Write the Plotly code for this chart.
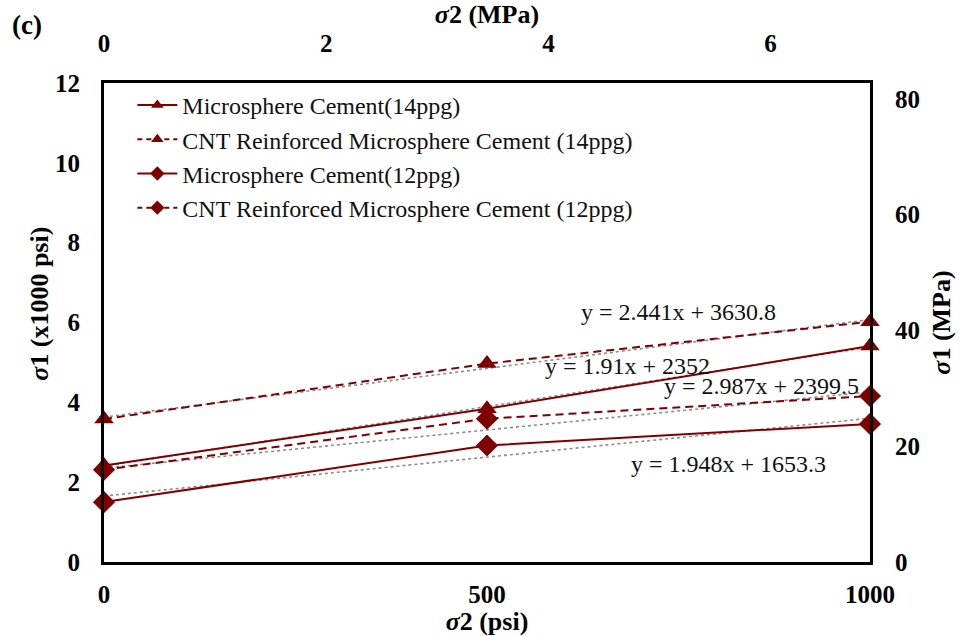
import plotly.graph_objects as go

x_psi = [0, 500, 1000]
micro14 = [2.42, 3.84, 5.41]
cnt14 = [3.58, 4.97, 6.02]
micro12 = [1.50, 2.92, 3.46]
cnt12 = [2.31, 3.59, 4.16]

series_names = [
    "Microsphere Cement(14ppg)",
    "CNT Reinforced Microsphere Cement (14ppg)",
    "Microsphere Cement(12ppg)",
    "CNT Reinforced Microsphere Cement (12ppg)",
]
# trend lines (psi): y = slope*x + intercept
trend_slopes = [2.987, 2.441, 1.948, 1.91]
trend_intercepts = [2399.5, 3630.8, 1653.3, 2352]
trend_labels = ["y = 2.987x + 2399.5", "y = 2.441x + 3630.8", "y = 1.948x + 1653.3", "y = 1.91x + 2352"]
label_pos = [(859, 4.42), (750, 6.26), (815, 2.45), (684, 4.90)]

PSI_TO_MPA = 0.00689476
RED = "#7f0000"
FONT = "Liberation Serif, Times New Roman, serif"

fig = go.Figure()
sym = ["triangle-up", "triangle-up", "diamond", "diamond"]
dashes = ["solid", "8px,5px", "solid", "8px,5px"]
data = [micro14, cnt14, micro12, cnt12]

for s, b in zip(trend_slopes, trend_intercepts):
    xs = [x_psi[0], x_psi[-1]]
    ys = [(s * xv + b) / 1000 for xv in xs]
    fig.add_trace(go.Scatter(x=xs, y=ys, mode="lines", showlegend=False,
                             line=dict(color="#8c8c8c", width=1.6, dash="dot"),
                             hoverinfo="skip"))

for name, ys, sm, d in zip(series_names, data, sym, dashes):
    fig.add_trace(go.Scatter(x=x_psi, y=ys, mode="lines+markers", name=name, cliponaxis=False,
                             showlegend=False, legendgroup=name,
                             line=dict(color=RED, width=2, dash=d),
                             marker=dict(symbol=sm, size=17, color=RED)))

# legend entries (smaller markers, as in the reference legend)
for name, sm, d in zip(series_names, sym, ["solid", "5px,4px", "solid", "5px,4px"]):
    fig.add_trace(go.Scatter(x=[None], y=[None], mode="lines+markers", name=name, legendgroup=name,
                             line=dict(color=RED, width=2, dash=d),
                             marker=dict(symbol=sm, size=11, color=RED)))

fig.add_trace(go.Scatter(x=[0], y=[None], xaxis="x2", yaxis="y2", showlegend=False, hoverinfo="skip"))

for txt, (lx, ly) in zip(trend_labels, label_pos):
    fig.add_annotation(x=lx, y=ly, text=txt, showarrow=False,
                       font=dict(family=FONT, size=24, color="#111"), xanchor="center", yanchor="middle")

fig.add_annotation(x=-0.123, y=1.121, xref="paper", yref="paper", text="<b>(c)</b>", showarrow=False,
                   xanchor="left", yanchor="middle", font=dict(family=FONT, size=27, color="black"))

tickfont = dict(family=FONT, size=25, color="black", weight="bold")
titlefont = dict(family=FONT, size=26, color="black")

fig.add_annotation(x=-0.0836, y=0.539, xref="paper", yref="paper", text="<b><i>σ</i>1 (x1000 psi)</b>",
                   showarrow=False, textangle=-90, xanchor="center", yanchor="middle", font=titlefont)

fig.update_layout(
    width=960, height=636,
    margin=dict(l=104, r=90, t=83, b=74),
    paper_bgcolor="white", plot_bgcolor="white",
    font=dict(family=FONT, color="black"),
    showlegend=True,
    legend=dict(x=0.037, y=1.0, xanchor="left", yanchor="top",
                font=dict(family=FONT, size=24, color="#111"),
                bgcolor="rgba(0,0,0,0)", tracegroupgap=0, itemwidth=40),
    xaxis=dict(range=[0, 1000], tickvals=[0, 500, 1000], showgrid=False, zeroline=False,
               showline=True, linecolor="black", linewidth=3, ticks="", ticklabelstandoff=8,
               tickfont=tickfont, tickformat="d", automargin=False,
               title=dict(text="<b><i>σ</i>2 (psi)</b>", font=titlefont, standoff=0)),
    xaxis2=dict(range=[0, 1000 * PSI_TO_MPA], tickvals=[0, 2, 4, 6], overlaying="x", side="top",
                showgrid=False, zeroline=False, showline=True, linecolor="black", linewidth=3,
                ticks="", ticklabelstandoff=18, tickfont=tickfont, automargin=False,
                title=dict(text="<b><i>σ</i>2 (MPa)</b>", font=titlefont, standoff=0)),
    yaxis=dict(range=[0, 12], tickvals=[0, 2, 4, 6, 8, 10, 12], showgrid=False, zeroline=False,
               showline=True, linecolor="black", linewidth=3, ticks="", ticklabelstandoff=16,
               tickfont=tickfont, automargin=False),
    yaxis2=dict(range=[0, 12 * 1000 * PSI_TO_MPA], tickvals=[0, 20, 40, 60, 80], overlaying="y",
                side="right", showgrid=False, zeroline=False, showline=True, linecolor="black",
                linewidth=3, ticks="", ticklabelstandoff=17, tickfont=tickfont, automargin=False,
                title=dict(text="<b><i>σ</i>1 (MPa)</b>", font=titlefont, standoff=13)),
)

fig.write_html("out.html")
